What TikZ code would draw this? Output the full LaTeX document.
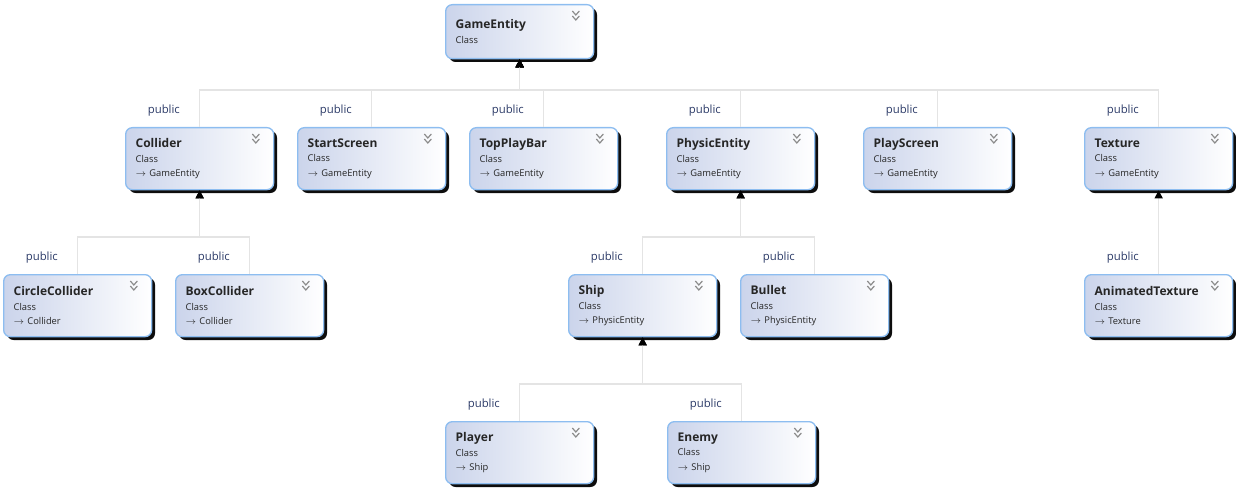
\documentclass[tikz,border=0pt]{standalone}
\usepackage{fontspec}
\setmainfont{Open Sans}
\usetikzlibrary{arrows.meta,shadows}

\definecolor{boxline}{HTML}{8DBDF0}
\definecolor{boxfill}{HTML}{CBD4EB}
\definecolor{pubtext}{HTML}{2B3A67}
\definecolor{linkgray}{HTML}{E4E4E4}
\definecolor{chevgray}{HTML}{8C8C8C}

\tikzset{
  cls/.style={draw=boxline, line width=1pt, rounded corners=5pt, anchor=north west,
    left color=boxfill, right color=white, minimum height=46.5pt,
    text width=96pt, inner xsep=7.5pt, inner ysep=0pt, align=left,
    font=\fontsize{7}{11}\selectfont, text=black!85,
    drop shadow={shadow xshift=2.5pt, shadow yshift=-2.5pt, fill=black, opacity=0.95}},
  link/.style={linkgray, line width=1.1pt, -{Triangle[width=6pt,length=6pt,color=black,fill=black]}},
  pub/.style={anchor=east, xshift=-11pt, yshift=12pt, text=pubtext, font=\fontsize{8.5}{10}\selectfont},
  chev/.style={chevgray, line width=0.9pt}
}

\begin{document}
\begin{tikzpicture}[x=0.75pt, y=-0.75pt]
  \useasboundingbox (0,0) rectangle (1236,492);

  % top
  \node[cls, minimum height=40.5pt] (gameentity) at (445,4) {{\bfseries\fontsize{9}{12}\selectfont GameEntity}\\ Class};

  % second row
  \node[cls] (collider) at (125,127) {{\bfseries\fontsize{9}{12}\selectfont Collider}\\ Class\\ $\rightarrow$ GameEntity};
  \node[cls] (startscreen) at (297,127) {{\bfseries\fontsize{9}{12}\selectfont StartScreen}\\ Class\\ $\rightarrow$ GameEntity};
  \node[cls] (topplaybar) at (469,127) {{\bfseries\fontsize{9}{12}\selectfont TopPlayBar}\\ Class\\ $\rightarrow$ GameEntity};
  \node[cls] (physicentity) at (666,127) {{\bfseries\fontsize{9}{12}\selectfont PhysicEntity}\\ Class\\ $\rightarrow$ GameEntity};
  \node[cls] (playscreen) at (863,127) {{\bfseries\fontsize{9}{12}\selectfont PlayScreen}\\ Class\\ $\rightarrow$ GameEntity};
  \node[cls] (texture) at (1084,127) {{\bfseries\fontsize{9}{12}\selectfont Texture}\\ Class\\ $\rightarrow$ GameEntity};

  % third row
  \node[cls] (circlecollider) at (3,274) {{\bfseries\fontsize{9}{12}\selectfont CircleCollider}\\ Class\\ $\rightarrow$ Collider};
  \node[cls] (boxcollider) at (175,274) {{\bfseries\fontsize{9}{12}\selectfont BoxCollider}\\ Class\\ $\rightarrow$ Collider};
  \node[cls] (ship) at (568,274) {{\bfseries\fontsize{9}{12}\selectfont Ship}\\ Class\\ $\rightarrow$ PhysicEntity};
  \node[cls] (bullet) at (740,274) {{\bfseries\fontsize{9}{12}\selectfont Bullet}\\ Class\\ $\rightarrow$ PhysicEntity};
  \node[cls] (animatedtexture) at (1084,274) {{\bfseries\fontsize{9}{12}\selectfont AnimatedTexture}\\ Class\\ $\rightarrow$ Texture};

  % fourth row
  \node[cls] (player) at (445,421) {{\bfseries\fontsize{9}{12}\selectfont Player}\\ Class\\ $\rightarrow$ Ship};
  \node[cls] (enemy) at (667,421) {{\bfseries\fontsize{9}{12}\selectfont Enemy}\\ Class\\ $\rightarrow$ Ship};

  % collapse chevrons
  \foreach \n in {gameentity,collider,startscreen,topplaybar,physicentity,playscreen,texture,
                  circlecollider,boxcollider,ship,bullet,animatedtexture,player,enemy}
    \draw[chev] ([shift={(-22,7)}]\n.north east) -- ++(3.5,4) -- ++(3.5,-4)
                ([shift={(-22,12)}]\n.north east) -- ++(3.5,4) -- ++(3.5,-4);

  % inheritance
  \coordinate (bus1) at (0,90);
  \coordinate (bus2) at (0,237);
  \coordinate (bus3) at (0,384);
  \foreach \kid/\parent/\bus in {collider/gameentity/1, startscreen/gameentity/1,
      topplaybar/gameentity/1, physicentity/gameentity/1, playscreen/gameentity/1,
      texture/gameentity/1, circlecollider/collider/2, boxcollider/collider/2,
      ship/physicentity/2, bullet/physicentity/2, animatedtexture/texture/2,
      player/ship/3, enemy/ship/3}
    \draw[link] (\kid.north) node[pub] {public} -- (\kid.north |- bus\bus) -| (\parent.south);
\end{tikzpicture}
\end{document}
